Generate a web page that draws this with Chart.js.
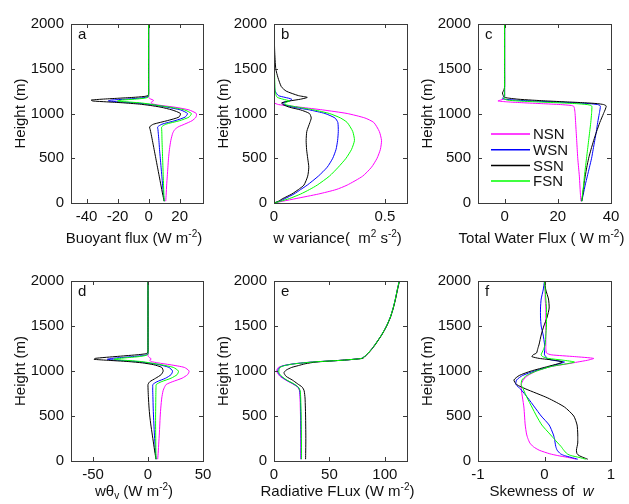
<!DOCTYPE html>
<html>
<head>
<meta charset="utf-8">
<script src="https://cdn.jsdelivr.net/npm/chart.js@4.4.1/dist/chart.umd.min.js"></script>
<style>
  html, body { margin: 0; padding: 0; background: #fff; overflow: hidden; }
  #wrap { position: relative; width: 629px; height: 504px; }
  canvas { position: absolute; }
</style>
</head>
<body>
<div id="wrap"></div>
<script>
// ---------------- DATA ----------------
const seriesNames = ['NSN', 'WSN', 'SSN', 'FSN'];
const seriesColors = ['#ff00ff', '#0000ff', '#000000', '#00ff00'];
const yTicks = [0, 500, 1000, 1500, 2000];

// (a) Buoyant flux
const hA = [20, 100, 200, 300, 400, 500, 600, 700, 780, 820, 850, 880, 920, 960, 1000, 1040, 1070, 1090, 1105, 1120, 1130, 1140, 1150, 1160, 1170, 1180, 1190, 1200, 1220, 1300, 1500, 2000];
const buoyNSN = [11, 11.3, 11.6, 12, 12.4, 12.8, 13.4, 14.3, 15.5, 16.8, 19, 23, 28, 30.5, 30.7, 26, 17, 8, 3, 1.5, 2, 3, 3, 1.5, 0.5, 0, 0, 0, 0, 0, 0, 0];
const buoyWSN = [10, 9.5, 9, 8.5, 8, 7.5, 7, 6.6, 6.2, 6, 5.8, 8.5, 17, 23.5, 25, 20.5, 12, 5, -1, -10, -19, -26, -24, -15, -7, -2, -0.3, 0, 0, 0, 0, 0];
const buoySSN = [10, 9, 7.9, 6.8, 5.7, 4.6, 3.5, 2.4, 1.5, 1, 0.6, 3, 12, 19.5, 20.5, 15, 8, 1, -6, -17, -27, -36, -37, -30, -20, -10, -3, -0.5, 0, 0, 0, 0];
const buoyFSN = [10, 9.8, 9.6, 9.4, 9.2, 9, 8.8, 8.6, 8.5, 8.4, 8.4, 11, 20, 26, 27.5, 23, 14, 6, 1, -6, -14, -20, -17, -9, -3, -0.5, 0, 0, 0, 0, 0, 0];
const ticksA = [-40, -20, 0, 20];

// (b) w variance
const hB = [0, 20, 50, 100, 150, 200, 300, 400, 500, 600, 700, 800, 900, 950, 1000, 1040, 1070, 1100, 1120, 1140, 1160, 1180, 1200, 1250, 1300, 1400, 1500, 1700, 2000];
const wvarNSN = [0, 0.04, 0.1, 0.2, 0.28, 0.33, 0.4, 0.44, 0.465, 0.48, 0.485, 0.475, 0.45, 0.41, 0.33, 0.22, 0.12, 0.02, 0, 0, 0, 0, 0, 0, 0, 0, 0, 0, 0];
const wvarWSN = [0, 0.025, 0.05, 0.09, 0.12, 0.15, 0.2, 0.24, 0.265, 0.28, 0.287, 0.29, 0.288, 0.275, 0.23, 0.16, 0.09, 0.045, 0.04, 0.07, 0.08, 0.05, 0.02, 0.005, 0.003, 0.002, 0.001, 0, 0];
const wvarSSN = [0, 0.02, 0.04, 0.08, 0.11, 0.135, 0.152, 0.157, 0.152, 0.147, 0.145, 0.148, 0.162, 0.168, 0.16, 0.12, 0.07, 0.04, 0.035, 0.07, 0.12, 0.15, 0.11, 0.055, 0.033, 0.018, 0.008, 0.003, 0];
const wvarFSN = [0, 0.03, 0.07, 0.12, 0.16, 0.195, 0.25, 0.29, 0.325, 0.35, 0.363, 0.355, 0.33, 0.3, 0.25, 0.18, 0.11, 0.05, 0.05, 0.07, 0.04, 0.015, 0.01, 0.005, 0.004, 0.003, 0.002, 0, 0];
const ticksB = [0, 0.5];

// (c) Total water flux
const hC = [20, 100, 200, 300, 400, 500, 600, 700, 800, 900, 1000, 1050, 1080, 1090, 1100, 1110, 1120, 1130, 1140, 1150, 1160, 1170, 1180, 1200, 1230, 1260, 1300, 1500, 2000];
const qtNSN = [28.7, 28.5, 28.3, 28.1, 27.8, 27.5, 27.3, 27.1, 26.9, 26.7, 26.5, 26.3, 26, 25, 21, 14, 7, 1, -2.5, -1.5, -0.5, 0, 0, 0, 0, 0, 0, 0, 0];
const qtWSN = [29, 29.6, 30.3, 31.1, 31.9, 32.7, 33.3, 33.9, 34.5, 35, 35.6, 35.9, 36, 35.8, 35, 32, 26, 18, 10, 4, 0, -0.8, -0.5, 0, 0, 0, 0, 0, 0];
const qtSSN = [29, 29.4, 29.8, 30.3, 30.9, 31.6, 32.5, 33.5, 34.6, 35.8, 37.2, 37.9, 38.2, 38, 37.2, 35, 30, 23, 16, 10, 5, 2, 0, -0.5, -0.8, -0.3, 0, 0, 0];
const qtFSN = [29, 29.3, 29.7, 30, 30.4, 30.8, 31.2, 31.6, 32, 32.4, 32.7, 32.8, 32.8, 32.5, 31, 27, 20, 12, 5, 1, 0, -0.5, 0, 0, 0, 0, 0, 0, 0];
const ticksC = [0, 20, 40];

// (d) w theta_v
const hD = [20, 100, 200, 300, 400, 500, 600, 700, 780, 820, 850, 880, 920, 960, 1000, 1040, 1070, 1090, 1105, 1120, 1130, 1140, 1150, 1160, 1170, 1180, 1190, 1200, 1220, 1300, 1500, 2000];
const wthNSN = [8.8, 9.3, 9.8, 10.3, 10.7, 11.1, 11.7, 12.5, 13.7, 15, 16.5, 22, 31, 36, 37.4, 33, 20, 9, 3, 1.5, 2.8, 2.5, 1.2, 0.4, 0, 0, 0, 0, 0, 0, 0, 0];
const wthWSN = [7.3, 6.8, 6.3, 5.8, 5.4, 5, 4.7, 4.5, 4.3, 4.3, 4.4, 8, 16, 21, 22.3, 19, 10, 0, -10, -28, -37, -33, -24, -14, -6, -1.5, 0, 0, 0, 0, 0, 0];
const wthSSN = [7.3, 6.2, 5, 3.8, 2.6, 1.6, 0.9, 0.4, 0.1, 0, 0, 1.5, 7, 12, 13.8, 12.5, 5, -5, -18, -38, -49, -48, -40, -30, -20, -10, -3, -0.5, 0, 0, 0, 0];
const wthFSN = [7.3, 7.2, 7.1, 7, 6.9, 6.9, 7, 7.1, 7.2, 7.3, 7.5, 12, 21, 26.5, 27.7, 23, 12, 2, -6, -22, -31, -26, -17, -8, -3, -0.5, 0, 0, 0, 0, 0, 0];
const ticksD = [-50, 0, 50];

// (e) Radiative flux
const hE = [20, 100, 200, 300, 400, 500, 600, 700, 780, 820, 860, 900, 940, 980, 1010, 1040, 1060, 1080, 1100, 1120, 1140, 1160, 1200, 1250, 1300, 1400, 1500, 1600, 1700, 1800, 1900, 2000];
const radNSN = [24.2, 24.2, 24.2, 24.1, 24, 23.9, 23.7, 23.5, 23, 21.5, 16.5, 10.5, 5.5, 3, 2.5, 4, 8.5, 18, 35, 62, 79, 81.5, 85, 88.5, 91.5, 97, 101.5, 105, 107.5, 109.5, 111.2, 113];
const radWSN = [24.5, 24.5, 24.5, 24.4, 24.3, 24.2, 24, 23.8, 23.3, 21.8, 17, 11, 6.3, 3.8, 3.5, 5, 9, 18, 35, 62, 79, 81.5, 85, 88.5, 91.5, 97, 101.5, 105, 107.5, 109.5, 111.2, 113];
const radSSN = [28.5, 28.6, 28.7, 28.7, 28.6, 28.5, 28.3, 28, 27.2, 25.5, 21, 16.5, 11, 9, 11, 16, 22, 28, 38, 62, 80, 82, 85.3, 88.8, 91.8, 97.2, 101.7, 105.2, 107.7, 109.7, 111.4, 113.2];
const radFSN = [24.8, 24.8, 24.8, 24.7, 24.6, 24.5, 24.3, 24.1, 23.6, 22, 17.5, 11.5, 7, 4.5, 4.5, 5.5, 9.5, 18.5, 35, 62, 79, 81.5, 85, 88.5, 91.5, 97, 101.5, 105, 107.5, 109.5, 111.2, 113];
const ticksE = [0, 50, 100];

// (f) Skewness of w
const hF = [20, 40, 60, 80, 120, 160, 200, 250, 300, 400, 500, 600, 700, 800, 850, 900, 950, 1000, 1050, 1080, 1100, 1120, 1140, 1160, 1180, 1200, 1250, 1300, 1400, 1500, 1600, 1700, 1800, 1900, 2000];
const skwNSN = [0.48, 0.35, 0.2, 0.08, -0.08, -0.17, -0.22, -0.25, -0.27, -0.29, -0.3, -0.31, -0.33, -0.35, -0.35, -0.32, -0.25, -0.12, 0.1, 0.35, 0.5, 0.65, 0.74, 0.45, 0.1, 0.03, 0.02, 0.02, 0.02, 0.02, 0.02, 0.02, 0.01, 0.01, 0];
const skwWSN = [0.5, 0.4, 0.3, 0.24, 0.19, 0.17, 0.16, 0.15, 0.13, 0.07, -0.05, -0.15, -0.25, -0.36, -0.43, -0.42, -0.33, -0.15, 0.08, 0.22, 0.3, 0.12, 0.03, 0.02, 0, 0, 0, 0, -0.02, -0.05, -0.06, -0.06, -0.05, -0.02, 0];
const skwSSN = [0.65, 0.58, 0.52, 0.49, 0.48, 0.49, 0.5, 0.5, 0.5, 0.49, 0.44, 0.3, 0.05, -0.28, -0.42, -0.46, -0.38, -0.2, 0.05, 0.2, 0.27, 0.15, -0.08, -0.19, -0.17, -0.12, -0.1, -0.08, -0.05, -0.01, 0.04, 0.07, 0.06, 0.02, 0];
const skwFSN = [0.62, 0.52, 0.4, 0.34, 0.29, 0.25, 0.2, 0.14, 0.08, -0.04, -0.12, -0.19, -0.26, -0.32, -0.35, -0.34, -0.27, -0.12, 0.1, 0.33, 0.45, 0.28, 0.06, -0.03, -0.05, -0.04, -0.01, 0.01, 0.02, 0.03, 0.03, 0.03, 0.02, 0.01, 0];
const ticksF = [-1, 0, 1];

// axis titles: [text, style]  style: n = normal, sup, sub, it = italic
const titleA = [['Buoyant flux (W m', 'n'], ['-2', 'sup'], [')', 'n']];
const titleB = [['w variance(  m', 'n'], ['2', 'sup'], [' s', 'n'], ['-2', 'sup'], [')', 'n']];
const titleC = [['Total Water Flux ( W m', 'n'], ['-2', 'sup'], [')', 'n']];
const titleD = [['w\u03b8', 'n'], ['v', 'sub'], [' (W m', 'n'], ['-2', 'sup'], [')', 'n']];
const titleE = [['Radiative FLux (W m', 'n'], ['-2', 'sup'], [')', 'n']];
const titleF = [['Skewness of  ', 'n'], ['w', 'it']];

// ---------------- LAYOUT / STYLE ----------------
const FONT = '"Liberation Sans", Arial, Helvetica, sans-serif';
const AXW = 71, PADT = 14, PADR = 14;

function segFont(style) {
  if (style === 'sup' || style === 'sub') return '10px ' + FONT;
  if (style === 'it') return 'italic 15px ' + FONT;
  return '15px ' + FONT;
}

const panelFrame = {
  id: 'panelFrame',
  afterDatasetsDraw(chart, args, o) {
    const { ctx, chartArea: a, scales: { x, y } } = chart;
    ctx.save();
    ctx.strokeStyle = '#3a3a3a';
    ctx.lineWidth = 1;
    ctx.beginPath();
    const L = 4;
    x.ticks.forEach(t => {
      const p = Math.round(x.getPixelForValue(t.value)) + 0.5;
      ctx.moveTo(p, a.bottom); ctx.lineTo(p, a.bottom - L);
      ctx.moveTo(p, a.top); ctx.lineTo(p, a.top + L);
    });
    y.ticks.forEach(t => {
      const p = Math.round(y.getPixelForValue(t.value)) + 0.5;
      ctx.moveTo(a.left, p); ctx.lineTo(a.left + L, p);
      ctx.moveTo(a.right, p); ctx.lineTo(a.right - L, p);
    });
    ctx.stroke();
    ctx.strokeRect(a.left + 0.5, a.top + 0.5, a.right - a.left, a.bottom - a.top);

    // panel letter
    ctx.fillStyle = '#111';
    ctx.font = '15px ' + FONT;
    ctx.textBaseline = 'alphabetic';
    ctx.textAlign = 'left';
    ctx.fillText(o.letter, a.left + 7, a.top + 15);

    // x-axis title with super/subscripts
    let total = 0;
    o.title.forEach(([t, s]) => { ctx.font = segFont(s); total += ctx.measureText(t).width; });
    let cx = (a.left + a.right) / 2 - 3 - total / 2;
    const base = a.bottom + o.titleDy;
    o.title.forEach(([t, s]) => {
      ctx.font = segFont(s);
      const dy = s === 'sup' ? -6 : (s === 'sub' ? 3 : 0);
      ctx.fillText(t, cx, base + dy);
      cx += ctx.measureText(t).width;
    });

    // legend
    if (o.legend) {
      ctx.font = '15px ' + FONT;
      chart.data.datasets.forEach((ds, i) => {
        const yy = a.top + 110 + i * 15.7;
        ctx.strokeStyle = ds.borderColor;
        ctx.lineWidth = 1.5;
        ctx.beginPath();
        ctx.moveTo(a.left + 13, yy); ctx.lineTo(a.left + 52, yy);
        ctx.stroke();
        ctx.fillStyle = '#111';
        ctx.textBaseline = 'middle';
        ctx.fillText(ds.label, a.left + 55, yy + 1);
      });
    }
    ctx.restore();
  }
};

function makePanel(cfg) {
  const w = (cfg.r - cfg.l) + AXW + PADR;
  const h = (cfg.b - cfg.t) + PADT + cfg.xAxisH;
  const c = document.createElement('canvas');
  c.width = w; c.height = h;
  c.style.left = (cfg.l - AXW) + 'px';
  c.style.top = (cfg.t - PADT) + 'px';
  c.style.width = w + 'px'; c.style.height = h + 'px';
  document.getElementById('wrap').appendChild(c);

  const datasets = seriesNames.map((name, i) => ({
    label: name,
    data: cfg.heights.map((hh, k) => ({ x: cfg.values[i][k], y: hh })),
    borderColor: seriesColors[i],
    backgroundColor: seriesColors[i],
    borderWidth: 1,
    pointRadius: 0,
    showLine: true,
    tension: 0.2,
    order: 4 - i
  }));

  new Chart(c, {
    type: 'scatter',
    data: { datasets },
    plugins: [panelFrame],
    options: {
      responsive: false,
      animation: false,
      events: [],
      layout: { padding: { top: PADT, right: PADR, left: 0, bottom: 0 } },
      plugins: {
        legend: { display: false },
        tooltip: { enabled: false },
        panelFrame: { letter: cfg.letter, legend: !!cfg.legend, title: cfg.xTitle, titleDy: cfg.titleDy }
      },
      scales: {
        x: {
          type: 'linear',
          min: cfg.xMin, max: cfg.xMax,
          afterBuildTicks: s => { s.ticks = cfg.xTicks.map(v => ({ value: v })); },
          afterFit: s => { s.height = cfg.xAxisH; },
          grid: { display: false, drawTicks: false },
          border: { display: false },
          ticks: {
            autoSkip: false, maxRotation: 0, padding: 5,
            color: '#111', font: { family: FONT, size: 15 },
            callback: v => String(v)
          },
          title: { display: false }
        },
        y: {
          type: 'linear',
          min: 0, max: 2000,
          afterBuildTicks: s => { s.ticks = yTicks.map(v => ({ value: v })); },
          afterFit: s => { s.width = AXW; },
          grid: { display: false, drawTicks: false },
          border: { display: false },
          ticks: {
            autoSkip: false, padding: 7,
            color: '#111', font: { family: FONT, size: 15 },
            callback: v => String(v)
          },
          title: {
            display: true, text: 'Height (m)', color: '#111',
            font: { family: FONT, size: 15 },
            padding: { top: 12, bottom: 0 }
          }
        }
      }
    }
  });
}

const row1 = { t: 22, b: 203, xAxisH: 45, titleDy: 40 };
const row2 = { t: 279, b: 461, xAxisH: 40, titleDy: 35 };

makePanel(Object.assign({}, row1, { l: 71, r: 203, letter: 'a', heights: hA, values: [buoyNSN, buoyWSN, buoySSN, buoyFSN], xMin: -50, xMax: 35, xTicks: ticksA, xTitle: titleA }));
makePanel(Object.assign({}, row1, { l: 274, r: 407, letter: 'b', heights: hB, values: [wvarNSN, wvarWSN, wvarSSN, wvarFSN], xMin: 0, xMax: 0.6, xTicks: ticksB, xTitle: titleB }));
makePanel(Object.assign({}, row1, { l: 478, r: 611, letter: 'c', heights: hC, values: [qtNSN, qtWSN, qtSSN, qtFSN], xMin: -10, xMax: 40, xTicks: ticksC, xTitle: titleC, legend: true }));
makePanel(Object.assign({}, row2, { l: 71, r: 203, letter: 'd', heights: hD, values: [wthNSN, wthWSN, wthSSN, wthFSN], xMin: -70, xMax: 50, xTicks: ticksD, xTitle: titleD }));
makePanel(Object.assign({}, row2, { l: 274, r: 407, letter: 'e', heights: hE, values: [radNSN, radWSN, radSSN, radFSN], xMin: 0, xMax: 120, xTicks: ticksE, xTitle: titleE }));
makePanel(Object.assign({}, row2, { l: 478, r: 611, letter: 'f', heights: hF, values: [skwNSN, skwWSN, skwSSN, skwFSN], xMin: -1, xMax: 1, xTicks: ticksF, xTitle: titleF }));
</script>
</body>
</html>
